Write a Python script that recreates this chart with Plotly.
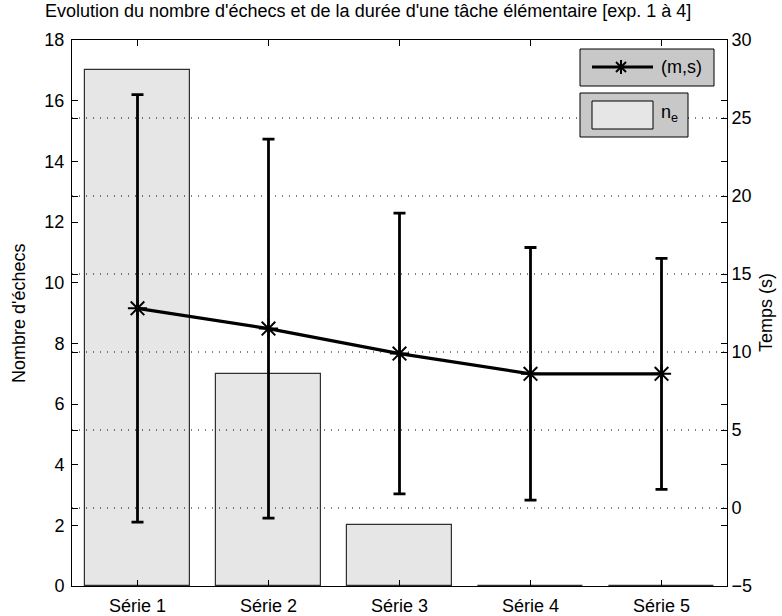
import plotly.graph_objects as go

# Data
series = ["Série 1", "Série 2", "Série 3", "Série 4", "Série 5"]
positions = [1, 2, 3, 4, 5]
n_echecs = [17, 7, 2, 0, 0]                   # number of failures (left axis)
temps_moyen = [12.8, 11.5, 9.9, 8.6, 8.6]     # mean duration in s (right axis)
temps_ecart = [13.7, 12.15, 9.0, 8.1, 7.4]    # standard deviation in s

left_ticks = list(range(0, 19, 2))
right_ticks = list(range(-5, 31, 5))
grid_values = [0, 5, 10, 15, 20, 25]

FONT = "Liberation Sans, Arial, sans-serif"
FS = 18

fig = go.Figure()

fig.add_trace(go.Bar(
    x=positions, y=n_echecs, width=0.8,
    marker=dict(color="#e6e6e6", line=dict(color="#303030", width=1.2)),
    yaxis="y", showlegend=False,
))

fig.add_trace(go.Scatter(
    x=positions, y=temps_moyen, yaxis="y2",
    mode="lines+markers",
    line=dict(color="black", width=3.2),
    marker=dict(symbol="asterisk-open", size=16, color="black",
                line=dict(color="black", width=2)),
    error_y=dict(type="data", array=temps_ecart, symmetric=True,
                 color="black", thickness=2.8, width=6),
    showlegend=False,
))

axis_common = dict(
    showline=True, linecolor="black", linewidth=1,
    ticks="inside", ticklen=6, tickcolor="black",
    zeroline=False, showgrid=False, automargin=False,
    tickfont=dict(family=FONT, size=FS, color="black"),
)

shapes = []
# dotted grid drawn over the bars
for g in grid_values:
    shapes.append(dict(type="line", xref="paper", x0=0, x1=1,
                       yref="y2", y0=g, y1=g, layer="above",
                       line=dict(color="black", width=1, dash="1px,6px")))


# legend boxes (pixel offsets from the top-right corner of the axes)
def px_shape(kind, x0, x1, y0, y1, lw=1, fill=None):
    s = dict(type=kind, xref="paper", yref="paper",
             xsizemode="pixel", ysizemode="pixel", xanchor=1, yanchor=1,
             x0=x0, x1=x1, y0=y0, y1=y1, layer="above",
             line=dict(color="black", width=lw))
    if fill:
        s["fillcolor"] = fill
    return s


shapes.append(px_shape("rect", -147, -13, -46, -9, fill="#c8c8c8"))
shapes.append(px_shape("rect", -147, -39, -97, -53, fill="#c8c8c8"))
shapes.append(px_shape("rect", -135, -74, -89, -61, fill="#e6e6e6"))
# line + asterisk key
shapes.append(px_shape("line", -135, -74, -27, -27, lw=3))
cx, cy = -106, -27
for dx, dy in [(0, 7), (5, 5), (5, -5)]:
    shapes.append(px_shape("line", cx - dx, cx + dx, cy - dy, cy + dy, lw=2))

annotations = [
    dict(text="(m,s)", xref="paper", yref="paper", x=1, y=1,
         xshift=-68, yshift=-27, xanchor="left", yanchor="middle",
         showarrow=False, font=dict(family=FONT, size=FS, color="black")),
    dict(text="n<sub>e</sub>", xref="paper", yref="paper", x=1, y=1,
         xshift=-68, yshift=-73, xanchor="left", yanchor="middle",
         showarrow=False, font=dict(family=FONT, size=FS, color="black")),
    dict(text="Nombre d'échecs", xref="paper", yref="paper", x=0, y=0.5,
         xshift=-53, textangle=-90, showarrow=False,
         xanchor="center", yanchor="middle",
         font=dict(family=FONT, size=FS, color="black")),
    dict(text="Temps (s)", xref="paper", yref="paper", x=1, y=0.5,
         xshift=39, textangle=-90, showarrow=False,
         xanchor="center", yanchor="middle",
         font=dict(family=FONT, size=FS, color="black")),
]

fig.update_layout(
    width=782, height=616,
    margin=dict(l=72, r=55, t=40, b=30),
    paper_bgcolor="white", plot_bgcolor="white",
    title=dict(text="Evolution du nombre d'échecs et de la durée d'une tâche élémentaire [exp. 1 à 4]",
               x=45 / 782, xref="container", xanchor="left",
               y=1, yref="container", yanchor="top", pad=dict(t=4),
               font=dict(family=FONT, size=18, color="black")),
    xaxis=dict(range=[0.5, 5.5], tickvals=positions, ticktext=series,
               mirror="ticks", ticklabelstandoff=3, **axis_common),
    yaxis=dict(range=[0, 18], tickvals=left_ticks, mirror="ticks",
               ticklabelstandoff=3, **axis_common),
    yaxis2=dict(range=[-5, 30], tickvals=right_ticks, overlaying="y",
                side="right", mirror="ticks", **axis_common),
    shapes=shapes,
    annotations=annotations,
    showlegend=False,
    bargap=0,
)

fig.write_html("out.html")
